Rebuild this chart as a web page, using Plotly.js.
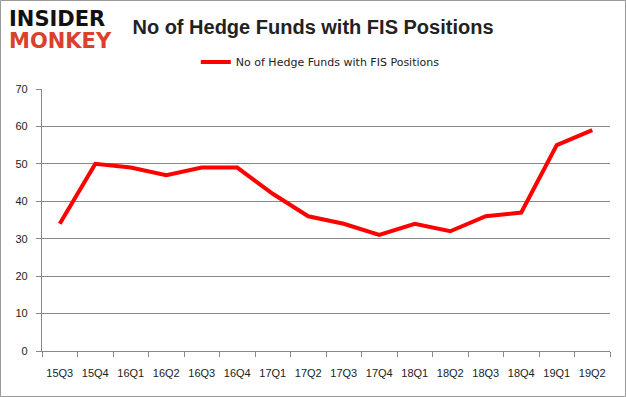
<!DOCTYPE html>
<html>
<head>
<meta charset="utf-8">
<script src="https://cdn.plot.ly/plotly-3.0.1.min.js"></script>
<style>html,body{margin:0;padding:0;background:#fff;}#chart{width:626px;height:397px;}</style>
</head>
<body>
<div id="chart"></div>
<script>
const quarters = ["15Q3","15Q4","16Q1","16Q2","16Q3","16Q4","17Q1","17Q2","17Q3","17Q4","18Q1","18Q2","18Q3","18Q4","19Q1","19Q2"];
const hedgeFunds = [34,50,49,47,49,49,42,36,34,31,34,32,36,37,55,59];
const seriesName = "No of Hedge Funds with FIS Positions";
const chartTitle = "No of Hedge Funds with FIS Positions";

const W = 626, H = 397, L = 42, R = 16, T = 89, B = 46;
const pw = W - L - R, ph = H - T - B;
const px = v => (v - L) / pw;
const py = v => (H - B - v) / ph;

const layout = {
  width: W, height: H,
  margin: {l: L, r: R, t: T, b: B},
  paper_bgcolor: "#fff", plot_bgcolor: "#fff",
  font: {family: "DejaVu Sans, Arial, sans-serif", size: 11, color: "#222"},
  title: {text: "<b>" + chartTitle + "</b>", x: 0.5, xanchor: "center", y: 1 - 27/H, yanchor: "middle",
          font: {family: "Liberation Sans, Arial, sans-serif", size: 20, color: "#222"}},
  showlegend: true,
  legend: {orientation: "h", x: 0.49, xanchor: "center", y: py(62), yanchor: "middle",
           font: {size: 11, color: "#222"}, bgcolor: "rgba(0,0,0,0)"},
  xaxis: {type: "category", range: [-0.5, quarters.length - 0.5], tickson: "boundaries", ticks: "outside", ticklen: 5, tickcolor: "#888",
          showline: true, linecolor: "#888", linewidth: 1, showgrid: false, zeroline: false, tickangle: 0,
          ticklabelstandoff: 12,
          tickfont: {family: "Liberation Sans, Arial, sans-serif", size: 11, color: "#222"}, fixedrange: true},
  yaxis: {range: [0, 70], dtick: 10, ticks: "outside", ticklen: 5, tickcolor: "#888",
          showline: true, linecolor: "#888", linewidth: 1, showgrid: true, gridcolor: "#888", gridwidth: 1,
          zeroline: false, ticksuffix: "  ",
          tickfont: {family: "Liberation Sans, Arial, sans-serif", size: 11, color: "#222"}, fixedrange: true},
  shapes: [
    {type: "rect", xref: "paper", yref: "paper", x0: px(0.5), x1: px(W - 0.5), y0: py(0.5), y1: py(H - 0.5),
     line: {color: "#999", width: 1}, fillcolor: "rgba(0,0,0,0)", layer: "below"}
  ],
  annotations: [
    {xref: "paper", yref: "paper", x: px(7), y: py(19), xanchor: "left", yanchor: "middle", showarrow: false,
     text: "<b>INSIDER</b>", font: {family: "DejaVu Sans, sans-serif", size: 21, color: "#111"}},
    {xref: "paper", yref: "paper", x: px(7), y: py(41), xanchor: "left", yanchor: "middle", showarrow: false,
     text: "<b>MONKEY</b>", font: {family: "DejaVu Sans, sans-serif", size: 21, color: "#d8412c"}}
  ]
};

const data = [{
  type: "scatter", mode: "lines", x: quarters, y: hedgeFunds, name: seriesName,
  line: {color: "#ff0000", width: 4}
}];

Plotly.newPlot("chart", data, layout, {displayModeBar: false, staticPlot: true});
</script>
</body>
</html>
